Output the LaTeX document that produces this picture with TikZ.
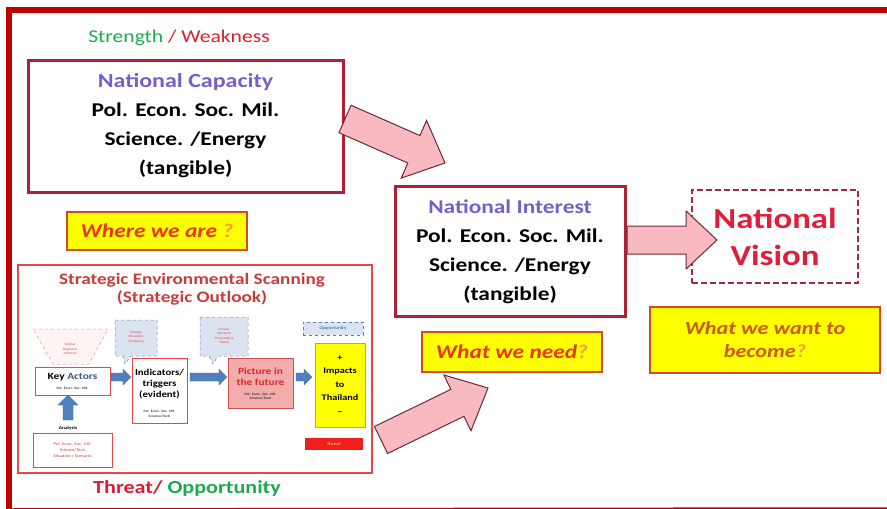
\documentclass[tikz,border=0pt]{standalone}
\usepackage{fontspec}
\setmainfont{Carlito}[FakeStretch=1.2]
\usetikzlibrary{calc}
\definecolor{frameRed}{RGB}{192,0,0}
\definecolor{boxRed}{RGB}{176,32,52}
\definecolor{purpleText}{RGB}{118,96,200}
\definecolor{goodGreen}{RGB}{30,170,80}
\definecolor{badRed}{RGB}{220,30,50}
\definecolor{yelFill}{RGB}{255,255,0}
\definecolor{yelLine}{RGB}{214,72,30}
\definecolor{askRed}{RGB}{230,55,20}
\definecolor{askLight}{RGB}{240,160,60}
\definecolor{askDark}{RGB}{205,90,20}
\definecolor{pinkFill}{RGB}{248,186,192}
\definecolor{pinkLine}{RGB}{110,40,55}
\definecolor{sesRed}{RGB}{232,70,70}
\definecolor{sesTitle}{RGB}{200,60,60}
\definecolor{visRed}{RGB}{222,30,60}
\definecolor{visLine}{RGB}{165,40,65}
\definecolor{blueArr}{RGB}{79,129,189}
\definecolor{calloutFill}{RGB}{218,228,240}
\definecolor{calloutLine}{RGB}{120,140,170}
\definecolor{picFill}{RGB}{242,172,172}
\definecolor{picLine}{RGB}{210,80,80}
\definecolor{picText}{RGB}{220,40,40}
\definecolor{impLine}{RGB}{150,180,120}
\definecolor{thrFill}{RGB}{240,30,30}
\definecolor{funLine}{RGB}{235,140,140}
\definecolor{funFill}{RGB}{255,244,244}
\newcommand{\blockarr}[6][]{%
  \draw[#1] let \p1=($(#3)-(#2)$), \n1={atan2(\y1,\x1)}, \n2={veclen(\x1,\y1)} in
    [shift={(#2)}, rotate=\n1]
    (0pt,{-0.5*#4 pt}) -- ({\n2-#6 pt},{-0.5*#4 pt}) -- ({\n2-#6 pt},{-0.5*#5 pt})
    -- ({\n2},0pt) -- ({\n2-#6 pt},{0.5*#5 pt}) -- ({\n2-#6 pt},{0.5*#4 pt})
    -- (0pt,{0.5*#4 pt}) -- cycle;}
\tikzset{
  mainbox/.style={draw=boxRed, line width=3pt, fill=white, inner sep=0pt, align=center,
    font=\fontsize{19.5}{29}\selectfont\bfseries},
  askbox/.style={draw=yelLine, line width=2pt, fill=yelFill, inner sep=0pt, align=center},
  pinkarrow/.style={fill=pinkFill, draw=pinkLine, line width=1pt, line join=miter},
  bluearrow/.style={fill=blueArr, draw=blueArr!80!black, line width=0.3pt},
  smallbox/.style={draw=sesRed, line width=0.8pt, fill=white, inner sep=0pt, align=center},
  callout/.style={fill=calloutFill, draw=calloutLine, dashed, line width=0.5pt},
  tiny/.style={inner sep=0pt, align=center, font=\fontsize{3.4}{4.6}\selectfont},
}
\begin{document}
\begin{tikzpicture}[x=1pt,y=-1pt]
\useasboundingbox (0,0) rectangle (887,509);
\fill[white] (0,0) rectangle (887,509);
% outer frame
\coordinate (ftl) at (9,10);
\coordinate (ftr) at (887,10);
\coordinate (fbl) at (9,509);
\coordinate (fbr) at (887,508);
\draw[frameRed, line width=6pt] (ftr) -- (ftl) -- (fbl);
\draw[frameRed, line width=1.5pt] (fbl) -- (fbr);

% headings
\node (sw) at (179,38) {\fontsize{18}{20}\selectfont\textcolor{goodGreen}{Strength} \textcolor{badRed}{/ Weakness}};

% National Capacity
\node[mainbox, minimum width=315pt, minimum height=132pt] (cap) at (185.5,126)
  {{\fontsize{20}{29}\selectfont\textcolor{purpleText}{National Capacity}}\\Pol. Econ. Soc. Mil.\\Science. /Energy\\(tangible)};

% Where we are
\node[askbox, minimum width=180pt, minimum height=38pt] (where) at (157,231)
  {\fontsize{19.5}{21}\selectfont\bfseries\itshape\textcolor{askRed}{Where we are} \textcolor{askLight}{?}};

% National Interest
\node[mainbox, minimum width=230pt, minimum height=130pt] (int) at (510,251.5)
  {{\fontsize{19.5}{29}\selectfont\textcolor{purpleText}{National Interest}}\\Pol. Econ. Soc. Mil.\\Science. /Energy\\(tangible)};

% What we need
\node[askbox, minimum width=180pt, minimum height=40pt] (need) at (512,352)
  {\fontsize{19.5}{21}\selectfont\bfseries\itshape\textcolor{askRed}{What we need}\textcolor{askLight}{?}};

% National Vision
\node[draw=visLine, line width=2.5pt, dash pattern=on 6pt off 3pt, fill=white,
      minimum width=166pt, minimum height=93pt, inner sep=0pt, align=center,
      font=\fontsize{29}{37}\selectfont\bfseries, text=visRed] (vis) at (775,236.5)
  {National\\Vision};

% What we want to become
\node[askbox, minimum width=230pt, minimum height=66pt,
      font=\fontsize{18.5}{23}\selectfont\bfseries\itshape, text=askDark] (become) at (765,340)
  {What we want to\\become\textcolor{askLight}{?}};

% Strategic Environmental Scanning
\node[draw=sesRed, line width=2pt, fill=white, minimum width=354pt, minimum height=208pt, inner sep=0pt] (ses) at (195,369) {};
\node[align=center, inner sep=0pt, font=\fontsize{16}{17.5}\selectfont\bfseries, text=sesTitle] (sestitle) at (192,289)
  {Strategic Environmental Scanning\\(Strategic Outlook)};
\node (to) at (187,488) {\fontsize{18.4}{20}\selectfont\bfseries\textcolor{badRed}{Threat/} \textcolor{goodGreen}{Opportunity}};

% funnel
\coordinate (f1) at (33,329);
\coordinate (f2) at (108,329);
\coordinate (f3) at (89,364);
\coordinate (f4) at (53,364);
\draw[funLine, fill=funFill, dashed, line width=0.5pt] (f1) -- (f2) -- (f3) -- (f4) -- cycle;
\node[tiny, text=sesRed] (funtext) at (70,349) {Global\\Regional\\Internal};

% key actors
\node[smallbox, minimum width=75pt, minimum height=28pt] (ka) at (72.5,381) {};
\node[inner sep=0pt, font=\fontsize{9.5}{10}\selectfont\bfseries] (kat) at (72.5,377) {Key \textcolor{blueArr!70!black}{Actors}};
\node[tiny] (kas) at (72.5,388.5) {Pol. Econ. Soc. Mil.};
\node[inner sep=0pt] (anl) at (68,428) {\fontsize{4.5}{5}\selectfont\bfseries Analysis};
\node[smallbox, minimum width=79pt, minimum height=34pt, font=\fontsize{4}{6}\selectfont, text=sesTitle] (anlbox) at (72.5,450)
  {Pol. Econ. Soc. Mil.\\Science/Tech\\Situation / Scenario};
\coordinate (upA) at (68,420);
\coordinate (upB) at (68,395);
\blockarr[bluearrow]{upA}{upB}{10}{20}{10}

% indicators
\node[smallbox, minimum width=55pt, minimum height=65pt] (ind) at (159.5,390.5) {};
\node[inner sep=0pt, align=center, font=\fontsize{9}{11}\selectfont\bfseries] (indt) at (159.5,384)
  {Indicators/\\triggers\\(evident)};
\node[tiny] (inds) at (159.5,414) {Pol. Econ. Soc. Mil.\\Science/Tech};

% callouts
\coordinate (c1p) at (125,364);
\draw[callout] (115,320) -- (157,320) -- (157,356) -- (131,356) -- (c1p) -- (123,356) -- (115,356) -- cycle;
\node[tiny, text=sesRed] (c1t) at (136,337) {Change\\Situation\\Tendency};
\coordinate (c2p) at (213,364);
\draw[callout] (200,317) -- (248,317) -- (248,356) -- (218,356) -- (c2p) -- (209,356) -- (200,356) -- cycle;
\node[tiny, text=sesRed] (c2t) at (224,336) {Future\\Scenario\\Forecasting\\Trend};

% picture in the future
\node[draw=picLine, line width=0.8pt, fill=picFill, minimum width=65pt, minimum height=50pt, inner sep=0pt] (pic) at (260.5,383) {};
\node[inner sep=0pt, align=center, font=\fontsize{9.5}{11}\selectfont\bfseries, text=picText] (pict) at (260.5,376.5)
  {Picture in\\the future};
\node[tiny] (pics) at (260.5,396.5) {Pol. Econ. Soc. Mil.\\Science/Tech};

% opportunity / impacts / threat
\node[draw=blueArr, dashed, line width=0.6pt, fill=calloutFill, minimum width=60pt, minimum height=13pt, inner sep=0pt] (opp) at (333,328.5)
  {\fontsize{4.5}{5}\selectfont\textcolor{blueArr!70!black}{Opportunity}};
\node[draw=impLine, line width=0.8pt, fill=yelFill, minimum width=50pt, minimum height=84pt, inner sep=0pt, align=center,
      font=\fontsize{8.5}{13.5}\selectfont\bfseries] (imp) at (340,385)
  {+\\Impacts\\to\\Thailand\\--};
\node[fill=thrFill, minimum width=58pt, minimum height=12pt, inner sep=0pt] (thr) at (334,443.5)
  {\fontsize{4.5}{5}\selectfont\textcolor{yellow!60!white}{threat}};

% blue arrows
\coordinate (b1a) at (111,377);
\coordinate (b1b) at (131,377);
\coordinate (b2a) at (190,377);
\coordinate (b2b) at (227,377);
\coordinate (b3a) at (296,377);
\coordinate (b3b) at (312,377);
\blockarr[bluearrow]{b1a}{b1b}{8}{16}{8}
\blockarr[bluearrow]{b2a}{b2b}{8}{16}{8}
\blockarr[bluearrow]{b3a}{b3b}{8}{16}{8}

% pink block arrows
\coordinate (p1a) at (345,119);
\coordinate (p1b) at (445,163);
\blockarr[pinkarrow]{p1a}{p1b}{30}{63}{34}
\coordinate (p2a) at (627,240);
\coordinate (p2b) at (717,240);
\blockarr[pinkarrow]{p2a}{p2b}{28}{58}{31}
\coordinate (p3a) at (381,440);
\coordinate (p3b) at (488,388);
\blockarr[pinkarrow]{p3a}{p3b}{30}{62}{34}
\end{tikzpicture}
\end{document}
